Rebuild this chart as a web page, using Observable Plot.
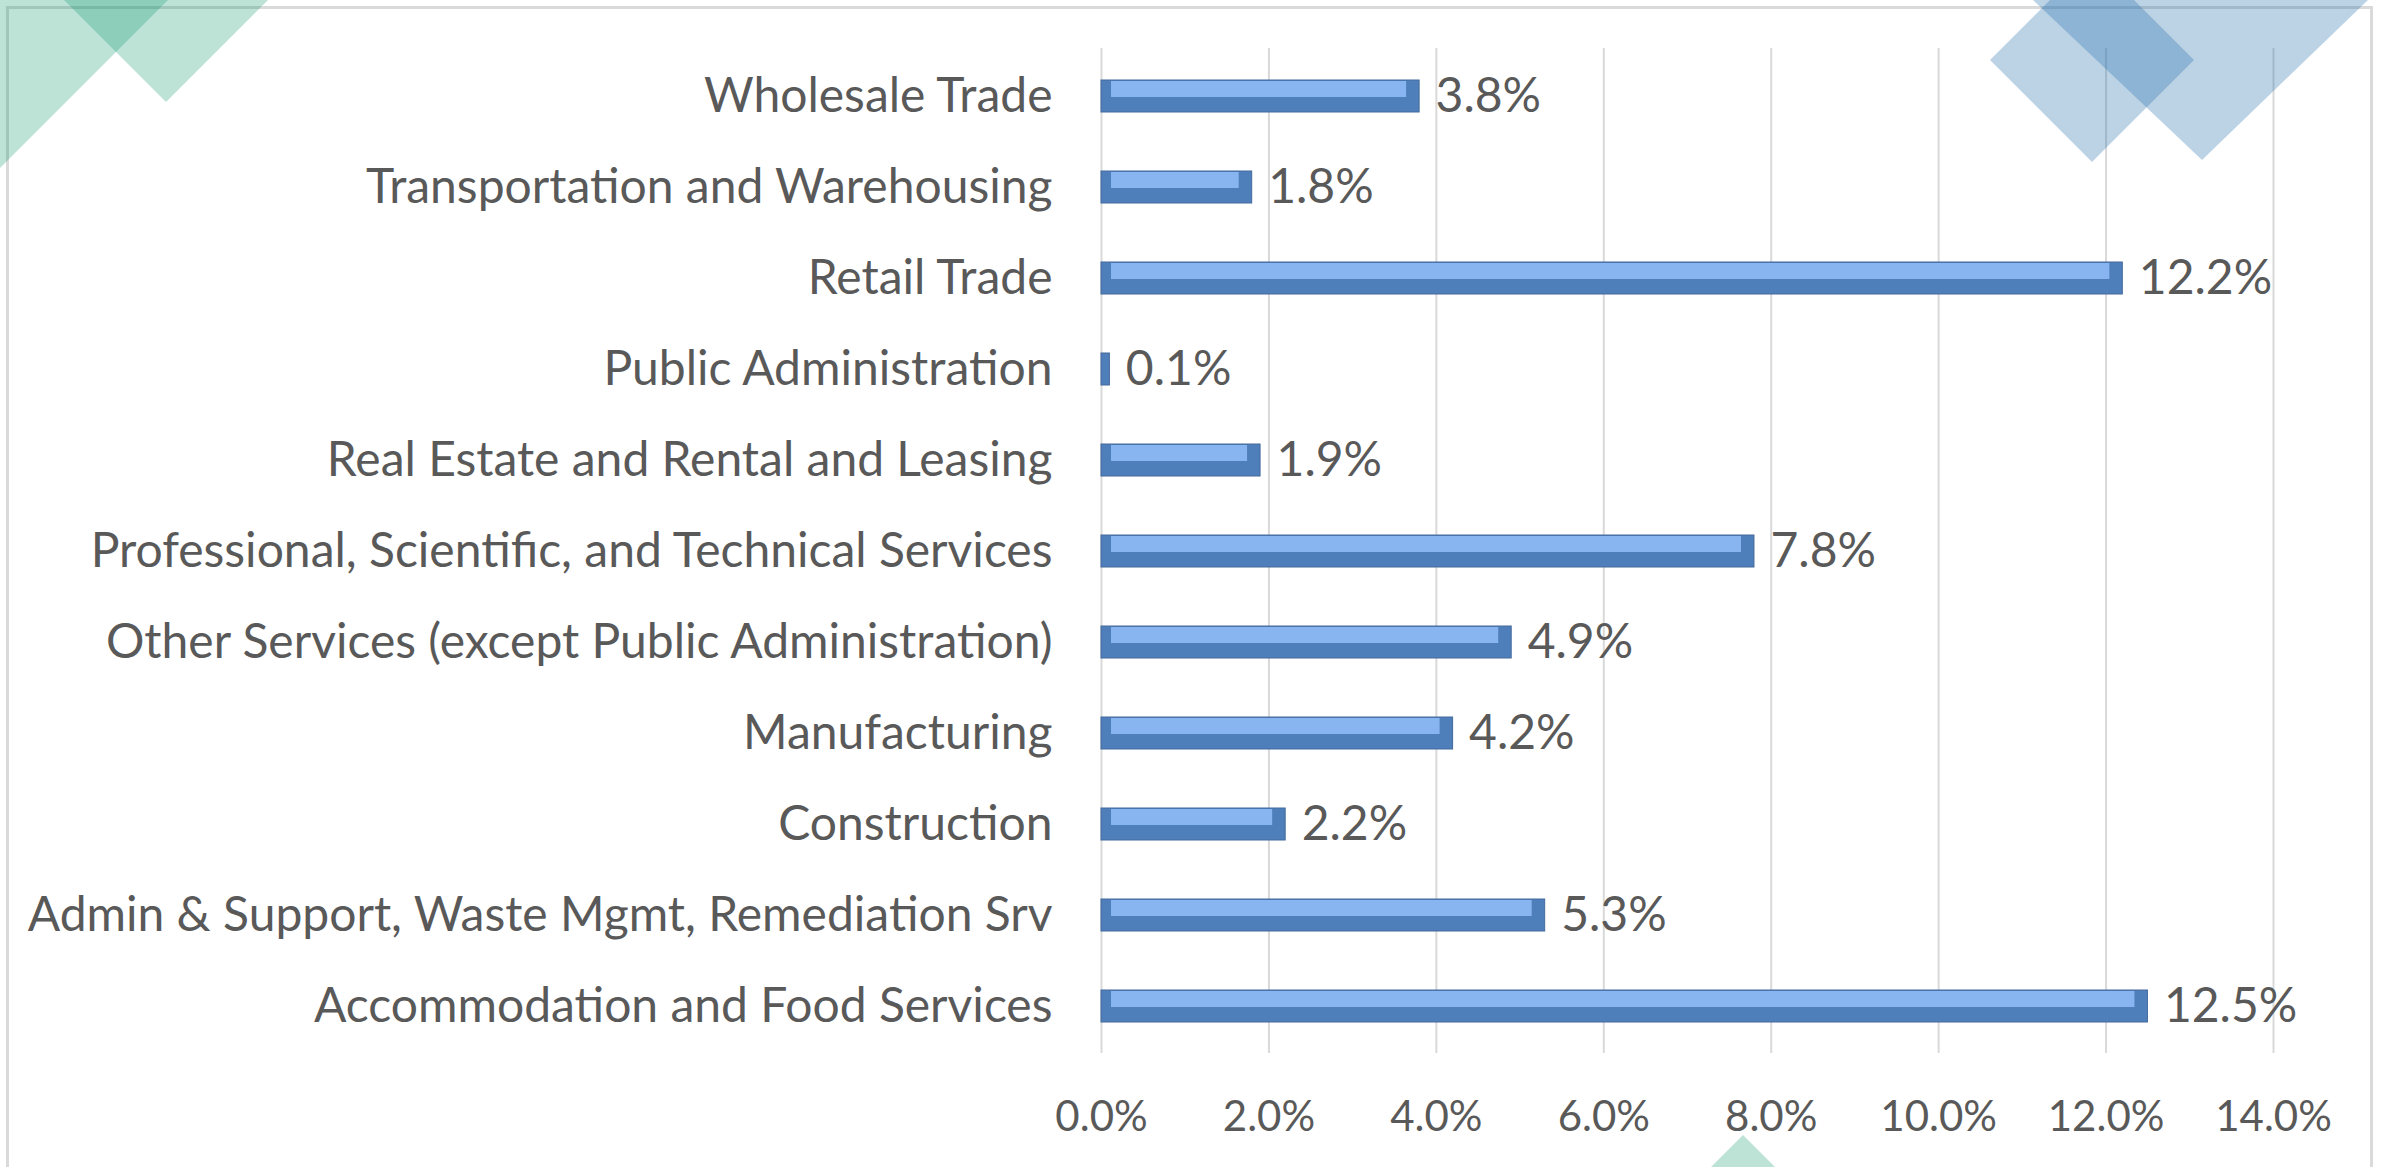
<!DOCTYPE html>
<html>
<head>
<meta charset="utf-8">
<script src="https://cdn.jsdelivr.net/npm/d3@7"></script>
<script src="https://cdn.jsdelivr.net/npm/@observablehq/plot@0.6"></script>
<style>
  html, body { margin: 0; padding: 0; background: #fff; }
  #wrap { position: relative; width: 2381px; height: 1167px; overflow: hidden; }
  #frame { position: absolute; left: 6px; top: 6px; width: 2367px; height: 1200px;
           border: 3px solid #dadada; box-sizing: border-box; }
  #chart { position: absolute; left: 0; top: 0; }
  #deco { position: absolute; left: 0; top: 0; pointer-events: none; }
</style>
</head>
<body>
<div id="wrap">
  <div id="frame"></div>
  <div id="chart"></div>
  <!-- purely decorative background shapes (not data) -->
  <svg id="deco" width="2381" height="1167">
    <g fill="rgb(0,146,100)" fill-opacity="0.26">
      <polygon points="0,0 168,0 0,168"/>
      <polygon points="64,0 268,0 166,102"/>
      <polygon points="1743,1135 1790,1182 1743,1229 1696,1182"/>
    </g>
    <g fill="rgb(32,108,172)" fill-opacity="0.3">
      <polygon points="2092,-42 2194,60 2092,162 1990,60"/>
      <polygon points="2033,0 2368,0 2202,160"/>
    </g>
  </svg>
</div>
<script>
const categories = [
  "Wholesale Trade",
  "Transportation and Warehousing",
  "Retail Trade",
  "Public Administration",
  "Real Estate and Rental and Leasing",
  "Professional, Scientific, and Technical Services",
  "Other Services (except Public Administration)",
  "Manufacturing",
  "Construction",
  "Admin & Support, Waste Mgmt, Remediation Srv",
  "Accommodation and Food Services"
];
const shares = [0.038, 0.018, 0.122, 0.001, 0.019, 0.078, 0.049, 0.042, 0.022, 0.053, 0.125];
const xTicks = [0, 0.02, 0.04, 0.06, 0.08, 0.10, 0.12, 0.14];

const data = categories.map((c, i) => ({category: c, value: shares[i]}));
const fmt = d3.format(".1%");
const font = "Lato, 'Open Sans', sans-serif";

const chart = Plot.plot({
  width: 2381,
  height: 1167,
  marginLeft: 1101,
  marginRight: 108,
  marginTop: 48,
  marginBottom: 114,
  style: {fontFamily: font, background: "transparent", overflow: "visible"},
  x: {domain: [0, 0.14], ticks: xTicks, tickFormat: fmt},
  y: {domain: categories, paddingInner: 0.65, paddingOuter: 0.325},
  marks: [
    Plot.gridX(xTicks, {stroke: "#d9d9d9", strokeOpacity: 1, strokeWidth: 2}),
    Plot.axisX({ticks: xTicks, tickFormat: fmt, tickSize: 0, tickPadding: 48,
                fontSize: 42, fill: "#595959", label: null}),
    Plot.axisY({tickSize: 0, tickPadding: 49, fontSize: 48, fill: "#595959", label: null}),
    Plot.barX(data, {x: "value", y: "category", fill: "#4f7fba", stroke: "#44699c", strokeWidth: 1}),
    Plot.barX(data, {x: "value", y: "category", fill: "#88b5ef", insetTop: 1, insetBottom: 15, insetLeft: 10, insetRight: 13}),
    Plot.text(data, {x: "value", y: "category", text: d => fmt(d.value), textAnchor: "start",
                     dx: 16, fontSize: 48, fill: "#595959"})
  ]
});
document.getElementById("chart").appendChild(chart);
</script>
</body>
</html>
